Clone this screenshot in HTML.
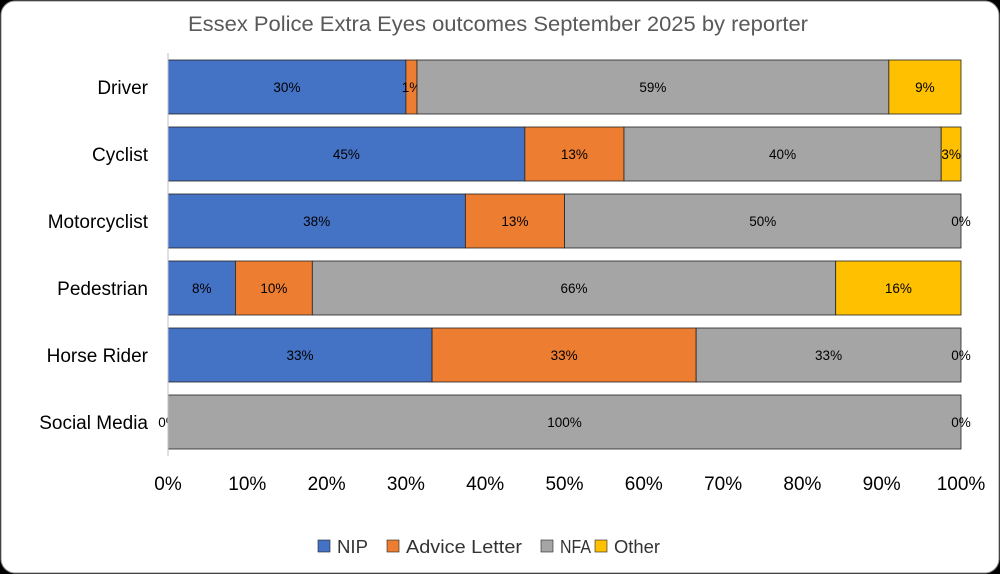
<!DOCTYPE html>
<html><head><meta charset="utf-8"><style>
body{margin:0;background:#000;}
svg{display:block;font-family:"Liberation Sans",sans-serif;}
</style></head><body>
<svg id="chart" width="1000" height="574">
<rect x="1" y="1" width="998" height="572" rx="14" fill="#fff" stroke="#888"/>
<text x="498" y="31" text-anchor="middle" font-size="21" fill="#595959" textLength="620" lengthAdjust="spacingAndGlyphs">Essex Police Extra Eyes outcomes September 2025 by reporter</text>
<g id="bars"></g>
<line x1="168" y1="53" x2="168" y2="456" stroke="#bfbfbf"/>
<g id="xticks"></g>
<g id="legend"></g>
</svg>
<script>
const categories=["Driver","Cyclist","Motorcyclist","Pedestrian","Horse Rider","Social Media"];
const seriesNames=["NIP","Advice Letter","NFA","Other"];
const nip=[30.0,45.0,37.5,8.5,33.3,0];
const advice=[1.4,12.5,12.5,9.7,33.3,0];
const nfa=[59.5,40.0,50.0,66.0,33.4,100];
const other=[9.1,2.5,0,15.8,0,0];
const labelNip=["30%","45%","38%","8%","33%","0%"];
const labelAdvice=["1%","13%","13%","10%","33%",""];
const labelNfa=["59%","40%","50%","66%","33%","100%"];
const labelOther=["9%","3%","0%","16%","0%","0%"];
const xTicks=[0,10,20,30,40,50,60,70,80,90,100];
const colors=["#4472c4","#ed7d31","#a5a5a5","#ffc000"];
const NS="http://www.w3.org/2000/svg";
const x0=168,x1=961,rowTop=60,pitch=67,bh=54;
const xs=v=>x0+(x1-x0)*v/100;
const ys=i=>rowTop+i*pitch;
const series=[nip,advice,nfa,other];
const labels=[labelNip,labelAdvice,labelNfa,labelOther];
const gb=document.getElementById('bars');
function mk(t,a){const e=document.createElementNS(NS,t);for(const k in a)e.setAttribute(k,a[k]);return e;}
categories.forEach((c,i)=>{
  const t=mk('text',{x:148,y:ys(i)+bh/2+7,'text-anchor':'end','font-size':19,fill:'#000'});
  t.textContent=c;
  
  
  gb.appendChild(t);
  let acc=0;
  series.forEach((s,j)=>{
    const v=s[i];
    const r=mk('rect',{x:xs(acc),y:ys(i),width:xs(acc+v)-xs(acc),height:bh,fill:colors[j],stroke:'#222','stroke-width':0.8});
    
    
    gb.appendChild(r);
    const lab=labels[j][i];
    if(lab){
      const lt=mk('text',{x:(xs(acc)+xs(acc+v))/2,y:ys(i)+bh/2+5,'text-anchor':'middle','font-size':13.5,fill:'#000'});
      lt.textContent=lab;
      
      
      gb.appendChild(lt);
    }
    acc+=v;
  });
});
const gx=document.getElementById('xticks');
xTicks.forEach(v=>{
  const t=mk('text',{x:xs(v),y:490,'text-anchor':'middle','font-size':19,fill:'#000'});
  t.textContent=v+"%";
  
  
  gx.appendChild(t);
});
const gl=document.getElementById('legend');
const lx=[318,387,541,595];
const lw=[31,116,31,46];
seriesNames.forEach((n,j)=>{
  const r=mk('rect',{x:lx[j],y:540,width:12,height:12,fill:colors[j],stroke:'#222','stroke-width':0.6});
  
  
  gl.appendChild(r);
  const t=mk('text',{x:lx[j]+19,y:553,'font-size':18,fill:'#333',textLength:lw[j],lengthAdjust:'spacingAndGlyphs'});
  t.textContent=n;
  
  
  gl.appendChild(t);
});
</script>
</body></html>
